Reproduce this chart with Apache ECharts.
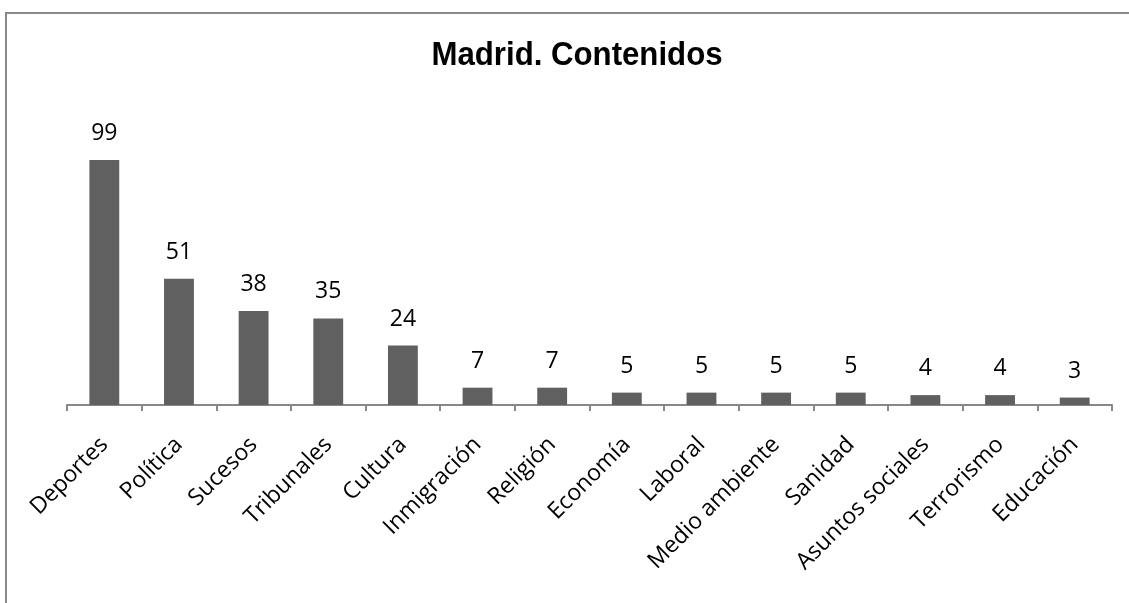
<!DOCTYPE html>
<html><head><meta charset="utf-8">
<script src="https://cdn.jsdelivr.net/npm/echarts@6/dist/echarts.min.js"></script>
<style>html,body{margin:0;padding:0;background:#fff}#c{width:1129px;height:603px}</style>
</head><body><div id="c"></div>
<script>
const categories = ["Deportes","Política","Sucesos","Tribunales","Cultura","Inmigración","Religión","Economía","Laboral","Medio ambiente","Sanidad","Asuntos sociales","Terrorismo","Educación"];
const values = [99,51,38,35,24,7,7,5,5,5,5,4,4,3];
const titleText = 'Madrid. Contenidos';
const chart = echarts.init(document.getElementById('c'));
chart.setOption({
  backgroundColor:'#fff',
  animation:false,
  graphic:[
    {type:'rect',shape:{x:6,y:13,width:1140,height:620},style:{fill:'none',stroke:'#898989',lineWidth:2},silent:true},
    {type:'text',x:577,y:56,scaleX:0.945,style:{text:titleText,font:'bold 33px "Liberation Sans"',fill:'#000',textAlign:'center',textVerticalAlign:'middle'},silent:true}
  ],
  grid:{left:67,right:17,top:157.5,bottom:198,outerBoundsMode:'none'},
  xAxis:{type:'category',data:categories,
    axisLine:{lineStyle:{color:'#888',width:2}},
    axisTick:{show:true,length:6,lineStyle:{color:'#888',width:2},alignWithLabel:false},
    axisLabel:{rotate:45,interval:0,fontFamily:'Open Sans',fontSize:23,color:'#000',margin:36}},
  yAxis:{type:'value',min:0,max:100,show:false,splitLine:{show:false}},
  series:[{type:'bar',data:values,barWidth:'40%',itemStyle:{color:'#606060'},
    label:{show:true,position:'top',distance:15,fontFamily:'Open Sans',fontSize:23,color:'#000'}}]
});
</script></body></html>
